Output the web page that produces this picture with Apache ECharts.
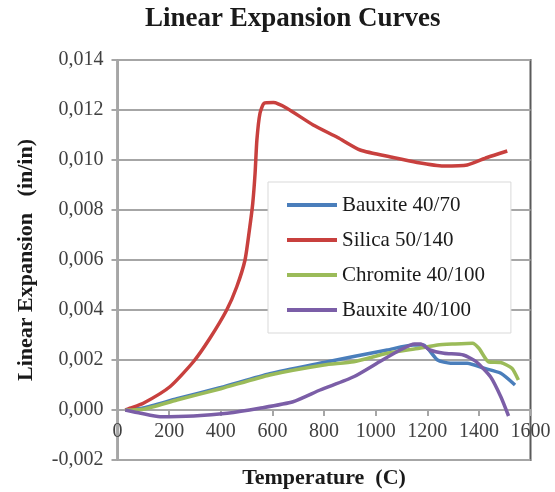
<!DOCTYPE html>
<html>
<head>
<meta charset="utf-8">
<script src="https://cdn.jsdelivr.net/npm/echarts@6/dist/echarts.min.js"></script>
<style>html,body{margin:0;padding:0;background:#fff}#c{width:555px;height:492px}</style>
</head>
<body>
<div id="c"></div>
<script>
var seriesNames = ['Bauxite 40/70', 'Silica 50/140', 'Chromite 40/100', 'Bauxite 40/100'];
var seriesColors = ['#4a7ebb', '#c8403e', '#9bbb59', '#7b5ea7'];

var bauxite70T = [30, 100, 230, 400, 590, 800, 915, 1045, 1145, 1185, 1240, 1290, 1355, 1420, 1485, 1540];
var bauxite70V = [0, 0.00008, 0.00045, 0.0009, 0.00145, 0.0019, 0.00214, 0.0024, 0.0026, 0.0026, 0.002, 0.00187, 0.00187, 0.00167, 0.00147, 0.001];

var silicaT = [30, 48, 100, 203, 294, 358, 423, 462, 494, 511, 524, 533, 540, 552, 568, 604, 656, 758, 853, 940, 1068, 1161, 1262, 1355, 1432, 1510];
var silicaV = [0, 0.00007, 0.00027, 0.00093, 0.00193, 0.00287, 0.004, 0.00493, 0.006, 0.0072, 0.00827, 0.00947, 0.0108, 0.01187, 0.01227, 0.0123, 0.01207, 0.0114, 0.0109, 0.0104, 0.0101, 0.0099, 0.00976, 0.0098, 0.0101, 0.01036];

var chromiteT = [30, 100, 230, 400, 590, 800, 915, 1045, 1170, 1240, 1305, 1375, 1400, 1437, 1485, 1528, 1553];
var chromiteV = [0, 0.00003, 0.0004, 0.00085, 0.0014, 0.0018, 0.00193, 0.00227, 0.00247, 0.0026, 0.00264, 0.00267, 0.00247, 0.00193, 0.0019, 0.00167, 0.0012];

var bauxite100T = [30, 90, 165, 295, 425, 550, 680, 785, 915, 1015, 1095, 1150, 1175, 1210, 1265, 1340, 1390, 1445, 1485, 1515];
var bauxite100V = [0, -0.00013, -0.00027, -0.00024, -0.00013, 0.00007, 0.00033, 0.0008, 0.00133, 0.00193, 0.0024, 0.00264, 0.00264, 0.0024, 0.00227, 0.0022, 0.00193, 0.00133, 0.00053, -0.00024];

var xTicks = [0, 200, 400, 600, 800, 1000, 1200, 1400, 1600];
var yTicks = [-0.002, 0, 0.002, 0.004, 0.006, 0.008, 0.010, 0.012, 0.014];

function pairs(t, v) { return t.map(function (x, i) { return [x, v[i]]; }); }
var allT = [bauxite70T, silicaT, chromiteT, bauxite100T];
var allV = [bauxite70V, silicaV, chromiteV, bauxite100V];

var serif = '"Liberation Serif", "DejaVu Serif", serif';
var chart = echarts.init(document.getElementById('c'), null, {renderer: 'canvas'});
chart.setOption({
  animation: false,
  backgroundColor: '#fff',
  title: {
    text: 'Linear Expansion Curves',
    left: 145,
    top: 6,
    padding: 0,
    textStyle: {fontFamily: serif, fontWeight: 'bold', fontSize: 27, color: '#1a1a1a'}
  },
  legend: {
    orient: 'vertical',
    left: 268,
    top: 182,
    padding: [12, 26, 12, 19],
    itemGap: 13,
    itemWidth: 50,
    itemHeight: 4,
    icon: 'rect',
    backgroundColor: '#fff',
    borderColor: '#d9d9d9',
    borderWidth: 1,
    data: seriesNames,
    textStyle: {fontFamily: serif, fontSize: 21, color: '#1a1a1a', lineHeight: 22}
  },
  grid: {
    left: 117.5, right: 24.5, top: 60, bottom: 32,
    outerBoundsMode: 'none', containLabel: false,
    show: true, borderColor: '#5a5a5a', borderWidth: 2, backgroundColor: 'transparent'
  },
  xAxis: {
    type: 'value', min: xTicks[0], max: xTicks[xTicks.length - 1], interval: 200,
    offset: -50,
    name: 'Temperature  (C)', nameLocation: 'middle', nameGap: 57,
    nameTextStyle: {fontFamily: serif, fontWeight: 'bold', fontSize: 22, color: '#1a1a1a'},
    axisLine: {onZero: false, lineStyle: {color: '#a6a6a6', width: 2}},
    axisTick: {show: true, inside: false, length: 6, lineStyle: {color: '#a6a6a6', width: 2}},
    axisLabel: {margin: 12, fontFamily: serif, fontSize: 20, color: '#404040',
      formatter: function (v) { return String(v); }},
    splitLine: {show: false}
  },
  yAxis: {
    type: 'value', min: yTicks[0], max: yTicks[yTicks.length - 1], interval: 0.002,
    name: 'Linear Expansion   (in/in)', nameLocation: 'middle', nameGap: 80, nameRotate: 90,
    nameTextStyle: {fontFamily: serif, fontWeight: 'bold', fontSize: 22, color: '#1a1a1a'},
    axisLine: {show: true, onZero: false, lineStyle: {color: '#a6a6a6', width: 2}},
    axisTick: {show: true, length: 6, lineStyle: {color: '#a6a6a6', width: 2}},
    axisLabel: {
      margin: 14, fontFamily: serif, fontSize: 20, color: '#404040',
      formatter: function (v) { return (Math.round(v * 1000) / 1000).toFixed(3).replace('.', ','); }
    },
    splitLine: {show: true, lineStyle: {color: '#a6a6a6', width: 2}}
  },
  series: seriesNames.map(function (n, i) {
    return {
      name: n, type: 'line', data: pairs(allT[i], allV[i]),
      showSymbol: false, symbol: 'none', smooth: 0.2,
      color: seriesColors[i],
      lineStyle: {color: seriesColors[i], width: 3.5},
      z: 2 + i
    };
  })
});
</script>
</body>
</html>
